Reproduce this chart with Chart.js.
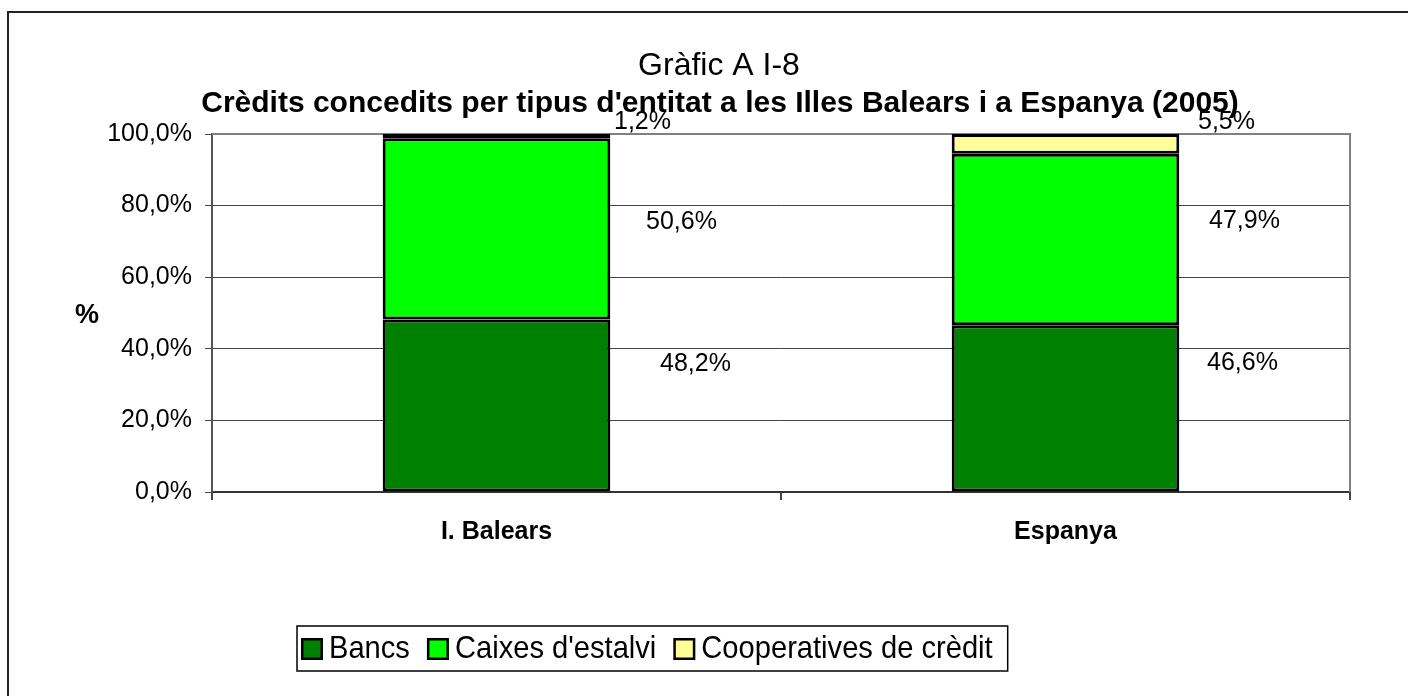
<!DOCTYPE html>
<html>
<head>
<meta charset="utf-8">
<script src="https://cdn.jsdelivr.net/npm/chart.js@4"></script>
<style>
  html, body { margin: 0; padding: 0; background: #fff; }
</style>
</head>
<body>
<canvas id="grafic" width="1408" height="696"></canvas>
<script>
// dades
const regions = ['I. Balears', 'Espanya'];
const bancs = [48.2, 46.6];
const caixes = [50.6, 47.9];
const cooperatives = [1.2, 5.5];
const seriesNames = ['Bancs', "Caixes d'estalvi", 'Cooperatives de crèdit'];
const seriesColors = ['#008000', '#00ff00', '#ffff99'];

const titleText = 'Gràfic A I-8';
const subtitleText = "Crèdits concedits per tipus d'entitat a les Illes Balears i a Espanya (2005)";

const FONT = "'Liberation Sans', Arial, sans-serif";

function pct(v) {
  return v.toFixed(1).replace('.', ',') + '%';
}

// where the value labels sit, relative to the centre of each segment
const labelNudge = {
  dx: [[199, 177], [185, 179], [146, 161]],
  dy: [[-41, -45], [-7, -18], [-14, -22]]
};

const extras = {
  id: 'extras',
  beforeDatasetsDraw(chart) {
    const {ctx, chartArea: a} = chart;
    ctx.save();
    ctx.strokeStyle = '#808080';
    ctx.lineWidth = 2;
    ctx.beginPath();
    ctx.moveTo(a.left, a.top);
    ctx.lineTo(a.right, a.top);
    ctx.lineTo(a.right, a.bottom);
    ctx.stroke();
    ctx.restore();
  },
  afterDatasetsDraw(chart) {
    const ctx = chart.ctx;
    ctx.save();
    ctx.font = '25px ' + FONT;
    ctx.fillStyle = '#000';
    ctx.textAlign = 'center';
    ctx.textBaseline = 'middle';
    chart.data.datasets.forEach((ds, di) => {
      chart.getDatasetMeta(di).data.forEach((bar, i) => {
        const cy = (bar.y + bar.base) / 2;
        ctx.fillText(pct(ds.data[i]), bar.x + labelNudge.dx[di][i], cy + labelNudge.dy[di][i]);
      });
    });
    ctx.restore();
  },
  afterDraw(chart) {
    const ctx = chart.ctx;
    ctx.save();

    // outer frame (only top and left visible)
    ctx.strokeStyle = '#222';
    ctx.lineWidth = 2;
    ctx.beginPath();
    ctx.moveTo(8, 700);
    ctx.lineTo(8, 12);
    ctx.lineTo(1410, 12);
    ctx.stroke();

    // titles
    ctx.fillStyle = '#000';
    ctx.textAlign = 'center';
    ctx.textBaseline = 'middle';
    ctx.font = '32px ' + FONT;
    ctx.fillText(titleText, 719, 66);
    ctx.font = 'bold 30px ' + FONT;
    ctx.fillText(subtitleText, 720, 104);

    // y axis title
    ctx.font = 'bold 27px ' + FONT;
    ctx.fillText('%', 87, 316);

    // legend
    const sq = 22, sx = 0.91;
    let x = 301;
    const top = 626, bottom = 671, base = 658;
    ctx.font = '32px ' + FONT;
    ctx.textAlign = 'left';
    ctx.textBaseline = 'alphabetic';
    seriesNames.forEach((name, i) => {
      ctx.fillStyle = seriesColors[i];
      ctx.fillRect(x, 638, sq, sq);
      ctx.strokeStyle = '#000';
      ctx.lineWidth = 2.5;
      ctx.strokeRect(x + 1.25, 639.25, sq - 2.5, sq - 2.5);
      x += sq + 6;
      ctx.save();
      ctx.translate(x, base);
      ctx.scale(sx, 1);
      ctx.fillStyle = '#000';
      ctx.fillText(name, 0, 0);
      ctx.restore();
      x += ctx.measureText(name).width * sx + 17;
    });
    ctx.strokeStyle = '#000';
    ctx.lineWidth = 1.5;
    ctx.strokeRect(297, top, x - 17 + 15 - 297, bottom - top);

    ctx.restore();
  }
};

new Chart(document.getElementById('grafic'), {
  type: 'bar',
  data: {
    labels: regions,
    datasets: [bancs, caixes, cooperatives].map((vals, i) => ({
      label: seriesNames[i],
      data: vals,
      backgroundColor: seriesColors[i],
      borderColor: '#000',
      borderWidth: 3,
      borderSkipped: false,
      barPercentage: 0.4,
      categoryPercentage: 1
    }))
  },
  options: {
    responsive: false,
    devicePixelRatio: 1,
    animation: false,
    layout: { padding: { top: 134, left: 10, right: 58, bottom: 134 } },
    plugins: {
      legend: { display: false },
      tooltip: { enabled: false },
      title: { display: false }
    },
    scales: {
      x: {
        stacked: true,
        offset: true,
        afterFit(scale) { scale.height = 70; },
        grid: { offset: true, drawOnChartArea: false, drawTicks: true, tickLength: 8, color: '#444', lineWidth: 2 },
        border: { display: true, color: '#333', width: 2 },
        ticks: { color: '#000', padding: 17, font: { family: FONT, size: 25, weight: 'bold' } }
      },
      y: {
        stacked: true,
        min: 0,
        max: 100,
        afterFit(scale) { scale.width = 202; },
        grid: { color: '#444', lineWidth: 1, drawTicks: true, tickLength: 7, tickColor: '#444' },
        border: { display: true, color: '#555', width: 2 },
        ticks: {
          stepSize: 20,
          color: '#000',
          padding: 13,
          font: { family: FONT, size: 25 },
          callback: v => pct(v)
        }
      }
    }
  },
  plugins: [extras]
});
</script>
</body>
</html>
